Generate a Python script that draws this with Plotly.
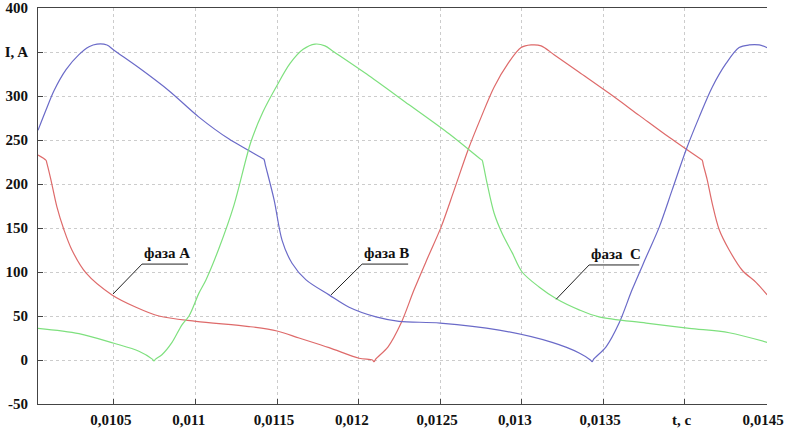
import plotly.graph_objects as go

# phase currents, time in seconds, current in amperes
t_a = [0.010034, 0.010083, 0.010088, 0.010113, 0.010150, 0.010193, 0.010242, 0.010328, 0.010488,
       0.010635, 0.010776, 0.011003, 0.011328, 0.011500, 0.011635, 0.011819, 0.012003,
       0.012085, 0.012095, 0.012105, 0.012181, 0.012261, 0.012341, 0.012426, 0.012506, 0.012586,
       0.012672, 0.012752, 0.012831, 0.012917, 0.012997, 0.013058, 0.013120, 0.013199, 0.013353,
       0.013537, 0.013721, 0.013905, 0.014100, 0.014108, 0.014114, 0.014138, 0.014169, 0.014212,
       0.014273, 0.014353, 0.014439, 0.014506]
i_a = [233, 227, 224, 205, 174, 148, 125, 99, 74,
       60, 50, 44, 38, 33, 25, 14, 2,
       0, -2, 1, 15, 42, 80, 117, 151, 193,
       239, 276, 310, 337, 355, 358, 357, 347, 327,
       303, 278, 253, 228, 227, 222, 205, 178, 148,
       125, 102, 88, 74]

t_b = [0.010034, 0.010083, 0.010132, 0.010206, 0.010285, 0.010347, 0.010396, 0.010457,
       0.010500, 0.010653, 0.010837, 0.011021, 0.011206, 0.011412, 0.011420, 0.011428, 0.011482,
       0.011531, 0.011592, 0.011678, 0.011819, 0.011942, 0.012107, 0.012248, 0.012500, 0.012862,
       0.013187, 0.013353, 0.013422, 0.013432, 0.013442, 0.013518, 0.013598, 0.013678, 0.013764,
       0.013844, 0.013923, 0.014009, 0.014089, 0.014169, 0.014254, 0.014334, 0.014396, 0.014457,
       0.014506]
i_b = [261, 284, 306, 330, 347, 356, 359, 358,
       352, 332, 306, 276, 251, 229, 228, 222, 182,
       136, 110, 91, 74, 60, 49, 44, 42, 34,
       20, 8, 0, -2, 1, 15, 42, 80, 117,
       151, 193, 239, 276, 310, 337, 355, 358, 358,
       355]

t_c = [0.010034, 0.010285, 0.010500, 0.010653, 0.010735, 0.010745, 0.010755, 0.010794,
       0.010856, 0.010917, 0.010960, 0.011021, 0.011064, 0.011144, 0.011236, 0.011340,
       0.011414, 0.011494, 0.011580, 0.011660, 0.011733, 0.011794, 0.011850, 0.012064,
       0.012310, 0.012555, 0.012750, 0.012758, 0.012765, 0.012788, 0.012831, 0.012880,
       0.012942, 0.013003, 0.013107, 0.013218, 0.013353, 0.013475, 0.013764, 0.014028,
       0.014273, 0.014506]
i_c = [36, 30, 19, 10, 1, -1, 1, 6,
       20, 40, 50, 76, 91, 127, 176, 248,
       282, 310, 337, 353, 359, 357, 350, 323,
       290, 257, 228, 227, 222, 201, 167, 144,
       122, 100, 83, 69, 57, 49, 42, 36,
       31, 20]

x_ticks = [0.0105, 0.011, 0.0115, 0.012, 0.0125, 0.013, 0.0135, 0.014, 0.0145]
# figure space keeps the short labels left-aligned like the long ones
x_labels = ["0,0105", "0,011\u2007", "0,0115", "0,012\u2007", "0,0125", "0,013\u2007", "0,0135", "t, c", "0,0145"]
y_ticks = [-50, 0, 50, 100, 150, 200, 250, 300, 350, 400]
y_labels = ["-50", "0", "50", "100", "150", "200", "250", "300", "I, A", "400"]

SERIF = "Liberation Serif"
TEXT = dict(family=SERIF, size=15, color="#111", weight="bold")

fig = go.Figure()
for t, i, color in [(t_a, i_a, "#de6a6a"), (t_b, i_b, "#6a6ac8"), (t_c, i_c, "#7ee07e")]:
    fig.add_trace(go.Scatter(x=t, y=i, mode="lines",
                             line=dict(color=color, width=1.2, shape="spline", smoothing=0.9),
                             showlegend=False))

# labels with leader lines: (text, x of underline start, x of underline end, y, x on curve, y on curve)
labels = [
    ("фаза А", 0.010672, 0.010954, 109, 0.010494, 75),
    ("фаза В", 0.012022, 0.012304, 109, 0.011831, 74),
    ("фаза  С", 0.013414, 0.013721, 108, 0.013212, 69),
]
for text, x0, x1, y, xp, yp in labels:
    fig.add_shape(type="line", x0=x0, x1=x1, y0=y, y1=y, line=dict(color="#222", width=1))
    fig.add_shape(type="line", x0=x0, x1=xp, y0=y, y1=yp, line=dict(color="#222", width=1))
    fig.add_annotation(x=x0, y=y + 1, text=text, showarrow=False,
                       xanchor="left", yanchor="bottom", font=TEXT)

fig.update_layout(
    width=789, height=428,
    margin=dict(l=38, r=22, t=8, b=24),
    paper_bgcolor="white", plot_bgcolor="white",
)
fig.update_xaxes(
    range=[0.010034, 0.014505], tickvals=x_ticks, ticktext=x_labels, tickfont=TEXT,
    ticklabelshift=-3, ticklabelstandoff=2, automargin=False,
    showgrid=True, gridcolor="#cccccc", griddash="dot", gridwidth=1,
    showline=True, linecolor="#444", linewidth=1, mirror=True,
    ticks="inside", ticklen=5, tickcolor="#444", zeroline=False,
)
fig.update_yaxes(
    range=[-50, 400], tickvals=y_ticks, ticktext=y_labels, tickfont=TEXT,
    ticklabelstandoff=6, automargin=False,
    showgrid=True, gridcolor="#cccccc", griddash="dot", gridwidth=1,
    showline=True, linecolor="#444", linewidth=1,
    ticks="inside", ticklen=5, tickcolor="#444", zeroline=False,
)

fig.write_html("out.html", config={"displayModeBar": False},
               post_script="document.body.style.margin='0';")
